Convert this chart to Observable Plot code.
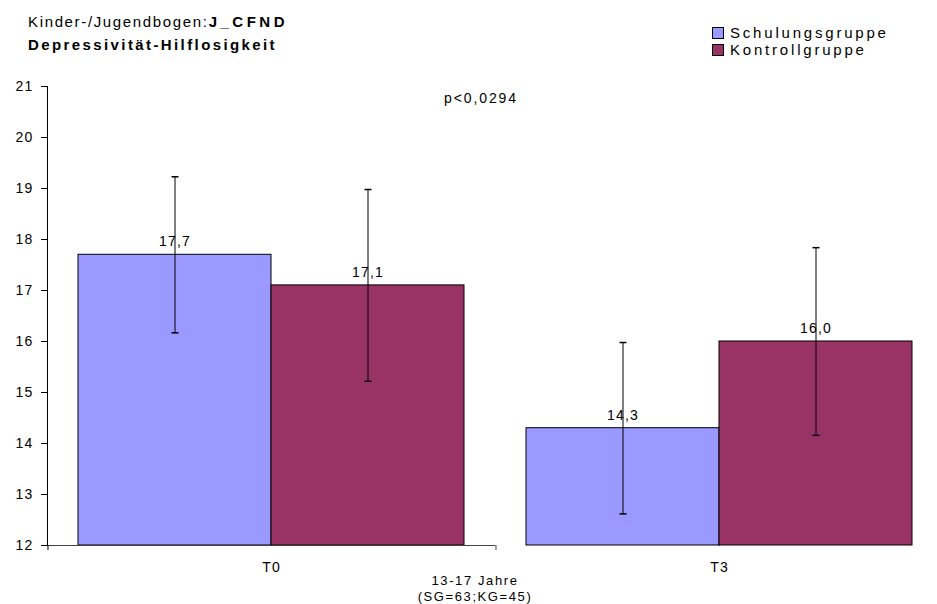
<!DOCTYPE html>
<html>
<head>
<meta charset="utf-8">
<script src="https://cdn.jsdelivr.net/npm/d3@7"></script>
<script src="https://cdn.jsdelivr.net/npm/@observablehq/plot@0.6"></script>
<style>
  html, body { margin: 0; padding: 0; background: #fff; overflow: hidden; width: 937px; height: 604px; }
  #wrap { position: relative; width: 937px; height: 604px; overflow: hidden; font-family: "Liberation Sans", Arial, sans-serif; color: #000; }
  #chart { width: 943px; }
  #chart svg { max-width: none !important; display: block; }
  .ov { position: absolute; white-space: nowrap; }
  #title { left: 28px; top: 10px; font-size: 15px; line-height: 23px; letter-spacing: 1.65px; }
  #title .b1 { letter-spacing: 3.5px; }
  #title .b2 { letter-spacing: 2.4px; }
  #legend { left: 712px; top: 24px; font-size: 15px; line-height: 17px; letter-spacing: 2.8px; }
  #legend .row { display: flex; align-items: center; }
  #legend .sw { width: 10px; height: 10px; border: 1px solid #000; margin-right: 6px; }
  #pval { left: 481px; top: 90px; transform: translateX(-50%); font-size: 14px; letter-spacing: 1.9px; }
  #xlab { left: 475px; top: 573px; transform: translateX(-50%); font-size: 13px; line-height: 16px; letter-spacing: 1.6px; text-align: center; }
</style>
</head>
<body>
<div id="wrap">
  <div id="chart"></div>
  <div class="ov" id="title"></div>
  <div class="ov" id="legend"></div>
  <div class="ov" id="pval"></div>
  <div class="ov" id="xlab"></div>
</div>
<script>
// ---- data ----
const titleNormal = "Kinder-/Jugendbogen:";
const titleBold = "J_CFND";
const subtitle = "Depressivität-Hilflosigkeit";
const times = ["T0", "T3"];
const groups = ["Schulungsgruppe", "Kontrollgruppe"];
const colors = ["#9999FF", "#993366"];
const sgMeans = [17.7, 14.3];
const kgMeans = [17.1, 16.0];
const sgErr = [1.53, 1.68];
const kgErr = [1.88, 1.84];
const yTicks = [12, 13, 14, 15, 16, 17, 18, 19, 20, 21];
const pText = "p<0,0294";
const xLabel = ["13-17 Jahre", "(SG=63;KG=45)"];

// ---- table ----
const rows = [];
times.forEach((t, i) => {
  rows.push({time: t, group: groups[0], value: sgMeans[i], err: sgErr[i]});
  rows.push({time: t, group: groups[1], value: kgMeans[i], err: kgErr[i]});
});
const fmt = v => v.toFixed(1).replace(".", ",");

// ---- layout ----
const W = 943, H = 604, ML = 47, MR = 0, MT = 86, MB = 59;
const pad = 0.155;
const step = (W - ML - MR) / times.length / (groups.length + 2 * pad);
const edgeOffset = -(pad + 0.5) * step;

const capSymbol = {
  draw(ctx) { ctx.moveTo(-3.5, 0); ctx.lineTo(3.5, 0); }
};

const chart = Plot.plot({
  width: W,
  height: H,
  marginLeft: ML,
  marginRight: MR,
  marginTop: MT,
  marginBottom: MB,
  style: {fontFamily: "Liberation Sans, Arial, sans-serif", fontSize: "14px", letterSpacing: "1.2px", color: "#000", background: "transparent", maxWidth: "none", width: W + "px", height: H + "px"},
  fx: {domain: times, padding: 0, label: null, tickSize: 0, tickPadding: 17, axis: "bottom"},
  x: {domain: groups, paddingInner: 0, paddingOuter: pad, axis: null},
  y: {domain: [12, 21], ticks: yTicks, tickSize: 6, tickPadding: 8, label: null, line: true},
  color: {domain: groups, range: colors},
  marks: [
    Plot.barY(rows, {fx: "time", x: "group", y1: 12, y2: "value", fill: "group", stroke: "#000", strokeWidth: 1}),
    Plot.ruleY(rows.slice(0, 2), {fx: "time", y: () => 12, stroke: "#444", strokeWidth: 1}),
    Plot.ruleX([times[0]], {fx: d => d, x: () => groups[0], y1: () => 12, y2: () => 12, insetBottom: -5, dx: edgeOffset, stroke: "#000"}),
    Plot.ruleX([times[1]], {fx: d => d, x: () => groups[0], y1: () => 12, y2: () => 12, insetBottom: -5, dx: edgeOffset, stroke: "#444"}),
    Plot.ruleX(rows, {fx: "time", x: "group", y1: d => d.value - d.err, y2: d => d.value + d.err, stroke: "#000", strokeWidth: 1}),
    Plot.dot(rows, {fx: "time", x: "group", y: d => d.value - d.err, symbol: capSymbol, stroke: "#000", fill: "none", r: 3}),
    Plot.dot(rows, {fx: "time", x: "group", y: d => d.value + d.err, symbol: capSymbol, stroke: "#000", fill: "none", r: 3}),
    Plot.text(rows, {fx: "time", x: "group", y: "value", text: d => fmt(d.value), dy: -13, fill: "#000", fontSize: 14})
  ]
});
document.getElementById("chart").appendChild(chart);

// overlays
document.getElementById("title").innerHTML =
  titleNormal + "<b class='b1'>" + titleBold + "</b><br><b class='b2'>" + subtitle + "</b>";
document.getElementById("legend").innerHTML = groups.map((g, i) =>
  `<div class="row"><div class="sw" style="background:${colors[i]}"></div><span>${g}</span></div>`).join("");
document.getElementById("pval").textContent = pText;
document.getElementById("xlab").innerHTML = xLabel.join("<br>");
</script>
</body>
</html>
